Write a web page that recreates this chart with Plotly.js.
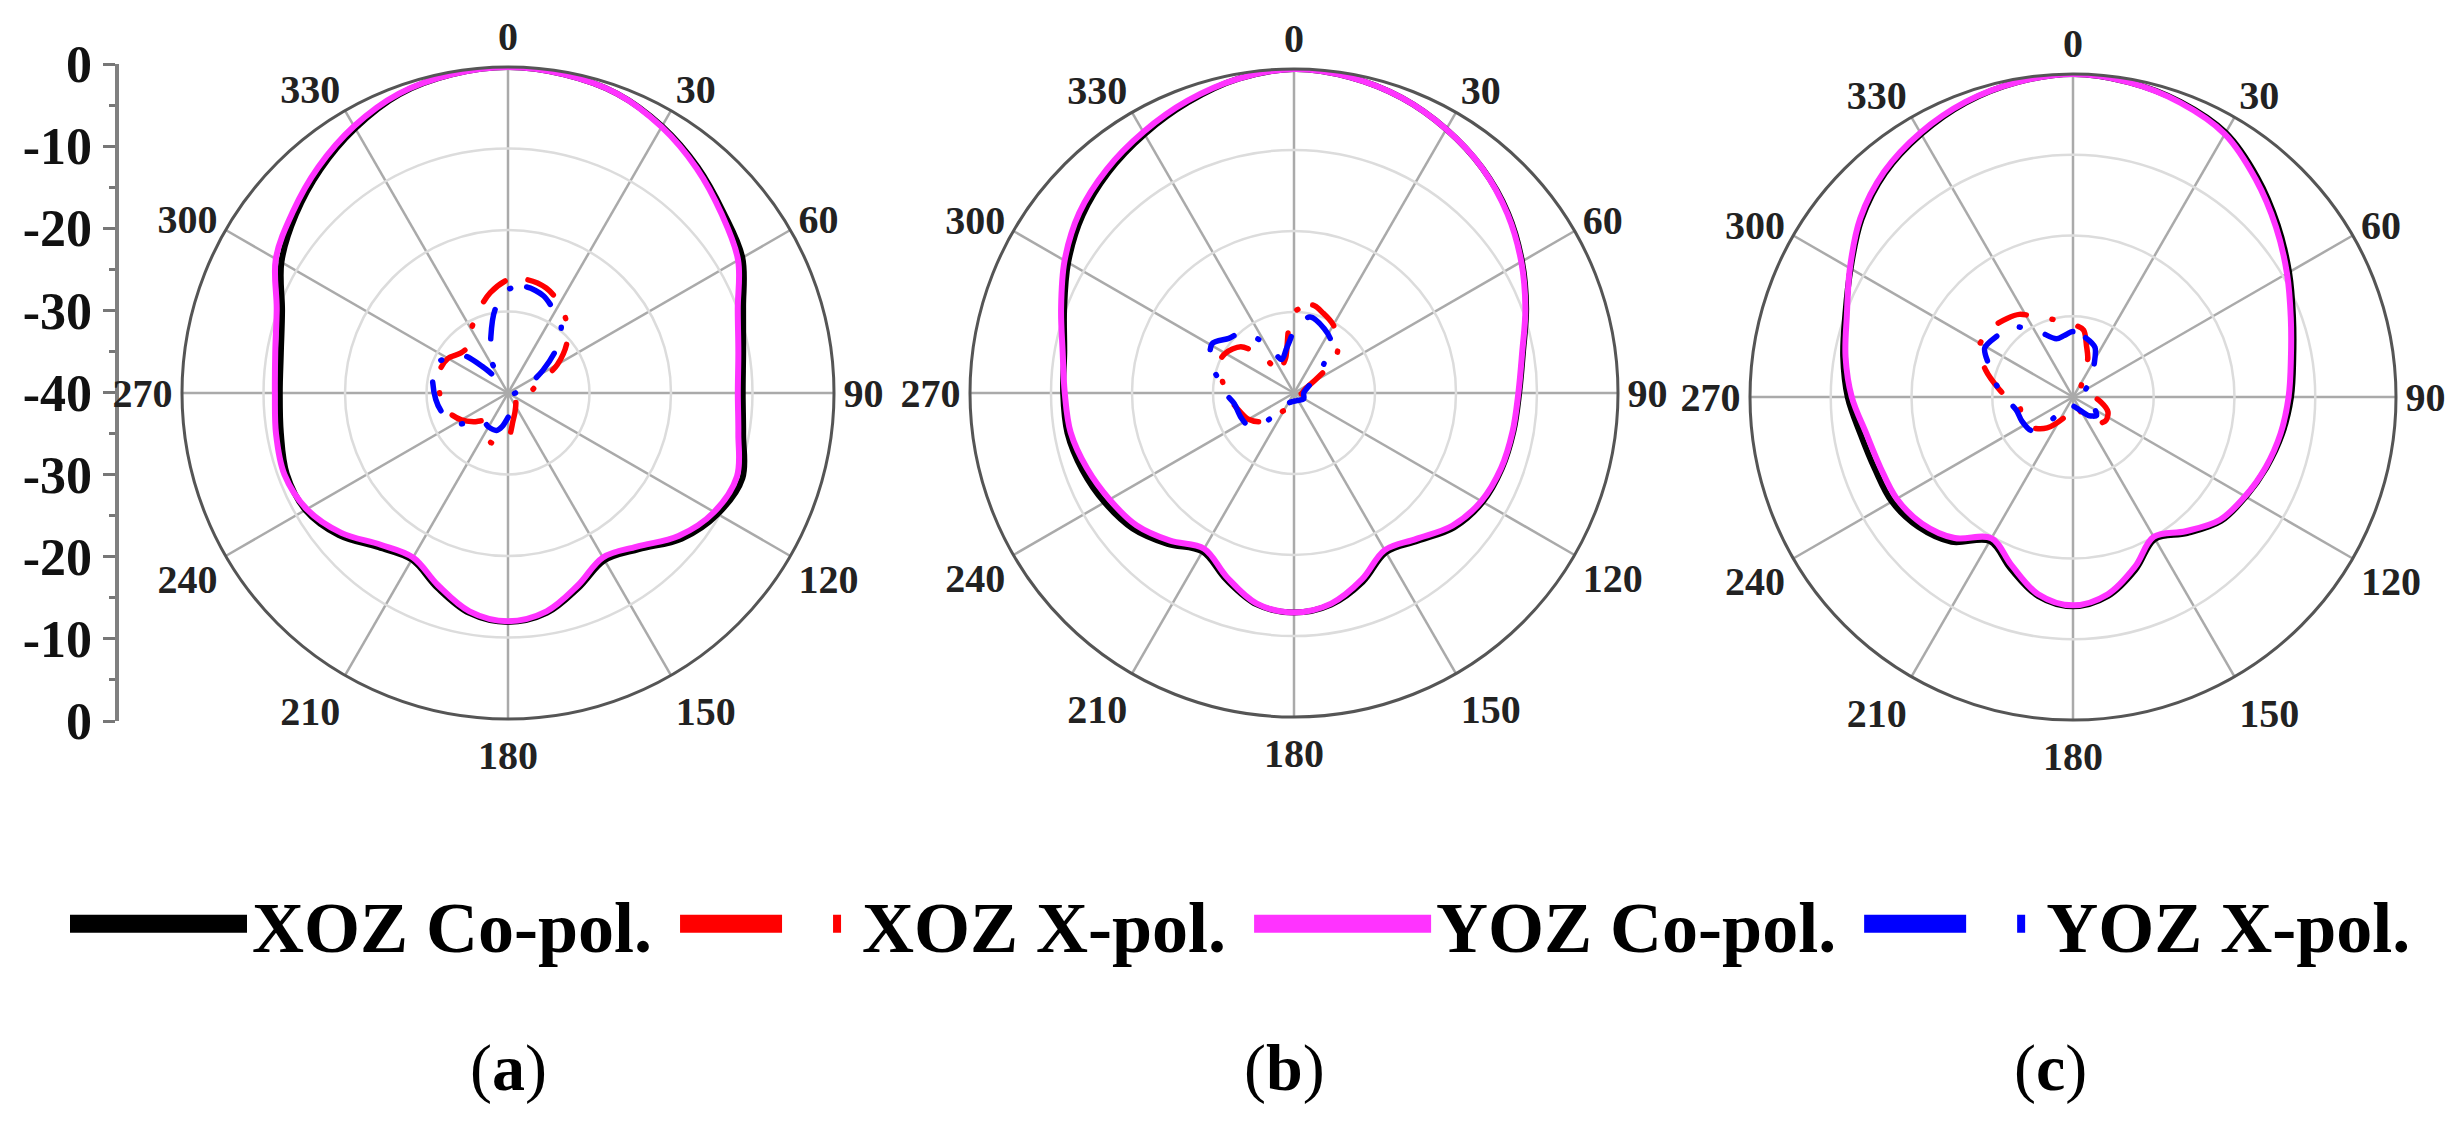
<!DOCTYPE html>
<html><head><meta charset="utf-8">
<script src="https://cdn.plot.ly/plotly-3.0.1.min.js"></script>
<style>
html,body{margin:0;padding:0;background:#fff;}
#chart{width:2462px;height:1128px;}
.polarlayer path.js-line{stroke-linecap:round;stroke-linejoin:round;}
.legend path.js-line{stroke-width:18px !important;}
</style></head><body><div id="chart"></div>
<script>
// ---------- data ----------
const angles = [0,10,20,30,40,50,60,70,80,90,100,110,120,130,140,150,160,170,180,190,200,210,220,230,240,250,260,270,280,290,300,310,320,330,340,350];
const angTickVals = [0,30,60,90,120,150,180,210,240,270,300,330];
const angTickText = ['0','30','60','90','120','150','180','210','240','270','300','330'];
const yTickVals = [-40,-30,-20,-10,0,10,20,30,40];
const yTickText = ['0','-10','-20','-30','-40','-30','-20','-10','0'];
const yMinorVals = [-35,-25,-15,-5,5,15,25,35];
const seriesNames = ['XOZ Co-pol.','XOZ X-pol.','YOZ Co-pol.','YOZ X-pol.'];
const panelLabels = ['a','b','c'];

// panel (a)
const aXozCo = [0,-0.3,-0.9,-2.2,-3.8,-5.5,-6.8,-9.3,-10.7,-11.2,-10.7,-9.4,-10.3,-12.2,-15.0,-16.3,-14.6,-12.6,-11.9,-12.6,-14.6,-16.4,-15.3,-12.9,-11.3,-11.1,-11.7,-12.0,-11.7,-10.5,-7.9,-6.0,-4.2,-2.5,-1.0,-0.3];
const aYozCo = [0,-0.3,-0.9,-2.3,-4.0,-5.8,-7.4,-10.0,-11.3,-11.8,-11.3,-10.1,-10.8,-12.7,-15.4,-16.7,-14.9,-12.8,-12.0,-12.8,-14.9,-16.7,-15.7,-13.3,-11.5,-10.8,-11.1,-11.4,-11.0,-9.8,-7.1,-5.5,-3.8,-2.2,-0.9,-0.3];
const aXozXTheta = [0,10,20,30,40,50,60,70,80,90,100,120,140,160,170,180,190,200,210,220,230,240,250,260,270,280,290,300,310,320,330,340,350];
const aXozX = [-26.1,-25.9,-26.3,-27.3,-28.8,-30.6,-33.0,-35.5,-36.8,-37.3,-38.0,-39.0,-38.5,-37.5,-36.5,-34.3,-33.6,-33.6,-34.7,-35.5,-34.5,-33.4,-32.5,-31.8,-31.6,-31.4,-31.2,-31.5,-32.4,-32.5,-31.0,-29.3,-27.5];
const aYozXTheta = [0,10,20,30,38,48,57,67,80,100,130,146,160,175,190,197,210,222,235,240,255,265,280,292,300,310,316,322,327,333,343,351];
const aYozX = [-27.3,-26.8,-27.3,-28.5,-29.4,-32.1,-34.9,-37.1,-38.5,-39.3,-39.3,-38.9,-38.2,-37.4,-35.8,-35.2,-35.2,-35.4,-33.5,-32.4,-31.5,-31.1,-30.6,-30.3,-31.5,-32.8,-35.5,-37.5,-38.1,-35.5,-32.8,-29.7];

// panel (b)
const bXozCo = [0,-0.4,-1.2,-2.4,-3.8,-5.5,-7.5,-9.5,-11.3,-12.2,-12.5,-12.7,-13.1,-14.2,-16.2,-17.3,-15.2,-13.5,-12.9,-13.5,-15.5,-17.4,-15.7,-14.0,-13.0,-12.2,-11.6,-11.5,-11.2,-9.8,-7.8,-5.9,-4.4,-3.1,-1.8,-0.6];
const bYozCo = [0,-0.4,-1.2,-2.4,-3.8,-5.6,-7.6,-9.6,-11.4,-12.3,-12.6,-12.8,-13.3,-14.5,-16.5,-17.6,-15.5,-13.6,-12.9,-13.6,-15.8,-17.8,-16.2,-14.6,-13.7,-12.8,-12.0,-11.7,-11.0,-9.4,-7.3,-5.4,-4.0,-2.8,-1.6,-0.6];
const bXozXTheta = [0,12,20,30,40,50,60,70,90,120,150,180,190,210,230,240,250,261,270,280,291,300,311,320,325,335,347,356];
const bXozX = [-30.0,-28.9,-29.5,-30.3,-31.5,-33.3,-37.3,-38.5,-39.0,-39.3,-39.0,-38.8,-38.6,-37.5,-34.5,-33.5,-33.0,-32.3,-31.6,-31.0,-30.0,-30.2,-31.3,-34.2,-37.1,-36.5,-35.5,-31.5];
const bYozXTheta = [0,12,25,35,46,53,65,90,121,160,200,218,224,234,245,260,270,282,289,301,310,320,331,340,350,357];
const bYozX = [-32.0,-30.4,-31.2,-32.1,-34.9,-36.1,-38.0,-38.8,-38.6,-39.0,-38.8,-38.0,-35.3,-33.1,-32.8,-32.5,-31.5,-30.3,-29.1,-28.2,-29.5,-30.2,-33.3,-35.6,-34.5,-33.1];

// panel (c)
const cXozCo = [0,-0.4,-1.1,-2.2,-4.5,-6.9,-9.1,-11.0,-12.3,-13.0,-13.7,-14.5,-15.3,-16.1,-18.0,-19.7,-17.3,-15.0,-14.1,-15.0,-17.4,-19.4,-16.6,-15.0,-14.1,-13.9,-13.3,-12.1,-11.1,-10.0,-8.2,-5.8,-3.8,-2.4,-1.2,-0.4];
const cYozCo = [0,-0.4,-1.2,-2.4,-4.8,-7.2,-9.4,-11.3,-12.6,-13.3,-13.9,-14.6,-15.4,-16.3,-18.3,-20.0,-17.6,-15.2,-14.2,-15.2,-17.8,-19.8,-17.2,-15.6,-14.8,-14.6,-14.0,-12.6,-11.4,-10.2,-8.1,-5.6,-3.6,-2.2,-1.1,-0.4];
const cXozXTheta = [0,9,15,21,27,40,60,80,100,113,125,137,150,170,200,220,234,250,261,270,276,287,298,311,320,327,339,354];
const cXozX = [-31.0,-31.6,-33.5,-34.9,-37.2,-38.5,-39.0,-38.0,-36.5,-35.3,-35.0,-35.5,-37.5,-39.0,-37.5,-35.0,-33.6,-33.2,-33.3,-31.8,-30.8,-28.7,-26.8,-26.8,-27.3,-27.8,-29.5,-30.6];
const cYozXTheta = [0,12,24,35,45,60,90,110,128,140,160,200,219,223,231,245,257,270,279,290,299,310,318,331,344,352];
const cYozX = [-31.9,-32.5,-33.3,-35.5,-36.5,-38.2,-38.5,-37.5,-36.3,-37.0,-38.5,-39.0,-38.7,-36.2,-33.4,-33.0,-32.8,-31.5,-30.4,-29.0,-27.5,-28.0,-28.3,-30.6,-32.5,-32.3];

// ---------- style ----------
const FONT = 'Liberation Serif, Times New Roman, serif';
const COLORS = ['#000000','#ff0000','#ff33ff','#0000ff'];
const XDASH = '30px,26px,1px,26px';

function close(a){ return a.concat([a[0]]); }
function closeT(a){ return a.concat([a[0]+360]); }

const panels = [
  {id:'polar',  xozCo:aXozCo, yozCo:aYozCo, xt:aXozXTheta, x:aXozX, yt:aYozXTheta, y:aYozX},
  {id:'polar2', xozCo:bXozCo, yozCo:bYozCo, xt:bXozXTheta, x:bXozX, yt:bYozXTheta, y:bYozX},
  {id:'polar3', xozCo:cXozCo, yozCo:cYozCo, xt:cXozXTheta, x:cXozX, yt:cYozXTheta, y:cYozX}
];

const traces = [];
panels.forEach(p => {
  traces.push({type:'scatterpolar', subplot:p.id, mode:'lines', r:close(p.xozCo), theta:closeT(angles),
    line:{color:COLORS[0], width:6, shape:'spline', smoothing:1}, showlegend:false, hoverinfo:'skip'});
  traces.push({type:'scatterpolar', subplot:p.id, mode:'lines', r:close(p.yozCo), theta:closeT(angles),
    line:{color:COLORS[2], width:6, shape:'spline', smoothing:1}, showlegend:false, hoverinfo:'skip'});
  traces.push({type:'scatterpolar', subplot:p.id, mode:'lines', r:close(p.x), theta:closeT(p.xt),
    line:{color:COLORS[1], width:5.5, dash:XDASH, shape:'spline', smoothing:0.8}, showlegend:false, hoverinfo:'skip'});
  traces.push({type:'scatterpolar', subplot:p.id, mode:'lines', r:close(p.y), theta:closeT(p.yt),
    line:{color:COLORS[3], width:5.5, dash:XDASH, shape:'spline', smoothing:0.8}, showlegend:false, hoverinfo:'skip'});
});

// legend entries (a single empty point each, legend only)
const legendDash = ['solid','102px,51px,8px,400px','solid','102px,51px,8px,400px'];
seriesNames.forEach((n,i) => {
  traces.push({type:'scatterpolar', subplot:'polar', mode:'lines', r:[null], theta:[null],
    name: n + (i < 3 ? '\u00a0' : ''), line:{color:COLORS[i], width:18, dash:legendDash[i]}, showlegend:true, hoverinfo:'skip'});
});

// carrier for the left dB scale
traces.push({type:'scatter', x:[], y:[], xaxis:'x', yaxis:'y', showlegend:false, hoverinfo:'skip'});

function polarCfg(dx, dy){
  return {
    domain:{x:dx, y:dy}, bgcolor:'#ffffff',
    radialaxis:{range:[-40,0], tick0:0, dtick:10, showticklabels:false, ticks:'', showline:false,
      gridcolor:'#dcdcdc', gridwidth:2.5},
    angularaxis:{rotation:90, direction:'clockwise', tickmode:'array', tickvals:angTickVals, ticktext:angTickText,
      ticks:'', tickfont:{family:FONT, size:40, color:'#222', weight:'bold'},
      gridcolor:'#aaaaaa', gridwidth:2.5, showline:true, linecolor:'#555555', linewidth:3}
  };
}

const W = 2462, H = 1128;
const layout = {
  width:W, height:H, margin:{l:0,r:0,t:0,b:0}, paper_bgcolor:'#fff', plot_bgcolor:'rgba(0,0,0,0)',
  showlegend:true,
  polar:  polarCfg([182/W, 834/W],  [(H-719)/H, (H-67)/H]),
  polar2: polarCfg([970/W, 1618/W], [(H-717)/H, (H-69)/H]),
  polar3: polarCfg([1750/W, 2396/W],[(H-720)/H, (H-74)/H]),
  xaxis:{domain:[0,0.04], range:[0,1], visible:false, fixedrange:true},
  yaxis:{domain:[(H-721)/H, (H-64)/H], range:[-40,40], anchor:'free', position:116.5/W,
    tickmode:'array', tickvals:yTickVals, ticktext:yTickText, ticks:'outside', ticklen:12, tickwidth:3, tickcolor:'#777',
    showline:true, linecolor:'#808080', linewidth:4, showgrid:false, zeroline:false, fixedrange:true,
    tickfont:{family:FONT, size:52, color:'#111', weight:'bold'},
    minor:{tickmode:'array', tickvals:yMinorVals, ticks:'outside', ticklen:6, tickwidth:3, tickcolor:'#777', showgrid:false}},
  legend:{orientation:'h', x:65/W, xanchor:'left', y:(H-924)/H, yanchor:'middle', itemwidth:177,
    font:{family:FONT, size:72, color:'#000', weight:'bold'}, bgcolor:'rgba(0,0,0,0)', borderwidth:0,
    traceorder:'normal', itemclick:false, itemdoubleclick:false},
  annotations: panelLabels.map((t,i) => ({
    xref:'paper', yref:'paper', x:[508,1284,2050][i]/W, y:(H-1068)/H, xanchor:'center', yanchor:'middle',
    text:'(<b>'+t+'</b>)', showarrow:false, font:{family:FONT, size:66, color:'#000'}
  }))
};

Plotly.newPlot('chart', traces, layout, {displayModeBar:false, staticPlot:true});
</script></body></html>
